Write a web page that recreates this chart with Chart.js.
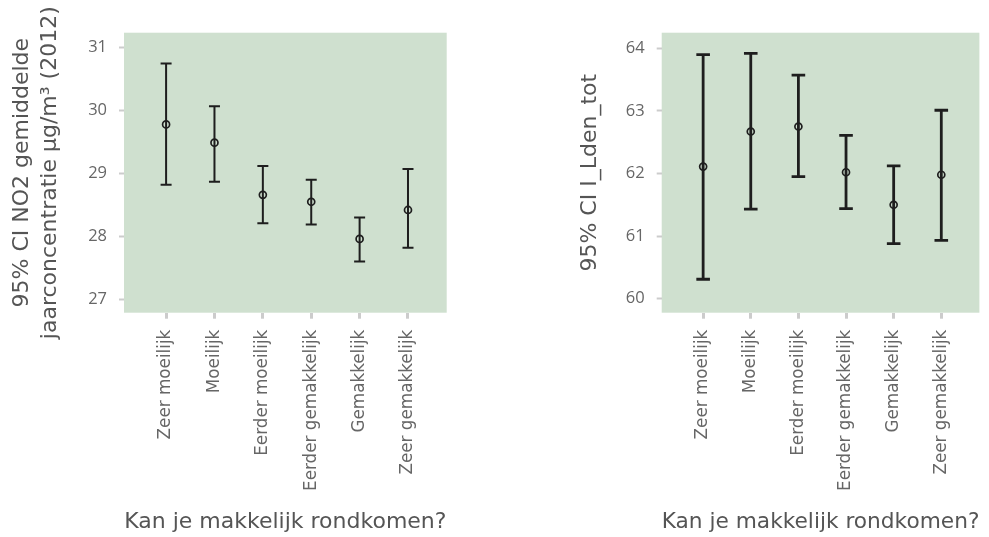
<!DOCTYPE html>
<html>
<head>
<meta charset="utf-8">
<script src="https://cdn.jsdelivr.net/npm/chart.js@4.4.1/dist/chart.umd.min.js"></script>
<style>
  html, body { margin: 0; padding: 0; background: #ffffff; }
  #wrap { position: relative; width: 989px; height: 537px; overflow: hidden; }
  canvas { position: absolute; top: 0; }
</style>
</head>
<body>
<div id="wrap">
  <canvas id="no2" width="494" height="537" style="left:0px"></canvas>
  <canvas id="lden" width="495" height="537" style="left:494px"></canvas>
</div>
<script>
// Answer categories (x axis)
const categories = ['Zeer moeilijk', 'Moeilijk', 'Eerder moeilijk', 'Eerder gemakkelijk', 'Gemakkelijk', 'Zeer gemakkelijk'];

// NO2 annual mean, 95% confidence interval
const no2Mean  = [29.78, 29.49, 28.66, 28.55, 27.96, 28.42];
const no2Lower = [28.82, 28.87, 28.21, 28.19, 27.60, 27.82];
const no2Upper = [30.75, 30.07, 29.12, 28.90, 28.30, 29.07];
const no2Ticks = [27, 28, 29, 30, 31];

// Lden total, 95% confidence interval
const ldenMean  = [62.11, 62.67, 62.75, 62.02, 61.50, 61.98];
const ldenLower = [60.31, 61.43, 61.95, 61.44, 60.88, 60.93];
const ldenUpper = [63.90, 63.92, 63.57, 62.61, 62.12, 63.01];
const ldenTicks = [60, 61, 62, 63, 64];

const xTitle = 'Kan je makkelijk rondkomen?';

const textFont = "'DejaVu Sans', sans-serif";
const numFont = "'Open Sans', sans-serif";
Chart.defaults.font.family = textFont;
Chart.defaults.devicePixelRatio = 1;

const panelFill = {
  id: 'panelFill',
  beforeDraw(chart) {
    const a = chart.chartArea, ctx = chart.ctx;
    ctx.save();
    ctx.fillStyle = '#cfe0cf';
    ctx.fillRect(a.left, a.top, a.right - a.left, a.bottom - a.top);
    ctx.restore();
  }
};

function errorChart(id, cfg) {
  const ink = '#1e1e1e';
  const whiskers = categories.map((c, i) => ({
    type: 'scatter',
    showLine: true,
    data: [{ x: i, y: cfg.lower[i] }, { x: i, y: cfg.upper[i] }],
    borderColor: ink,
    borderWidth: cfg.lw,
    pointRadius: 0,
    pointHoverRadius: 0
  }));
  const caps = {
    type: 'scatter',
    data: cfg.lower.map((v, i) => ({ x: i, y: v })).concat(cfg.upper.map((v, i) => ({ x: i, y: v }))),
    pointStyle: 'line',
    pointRadius: cfg.cap,
    pointHoverRadius: cfg.cap,
    borderColor: ink,
    borderWidth: cfg.lw
  };
  const means = {
    type: 'scatter',
    data: cfg.mean.map((v, i) => ({ x: i, y: v })),
    pointStyle: 'circle',
    pointRadius: 3.5,
    pointHoverRadius: 3.5,
    borderWidth: 1.7,
    borderColor: ink,
    backgroundColor: 'rgba(0,0,0,0)'
  };

  return new Chart(document.getElementById(id), {
    type: 'scatter',
    data: { datasets: [...whiskers, caps, means] },
    plugins: [panelFill],
    options: {
      responsive: false,
      animation: false,
      events: [],
      layout: { padding: { top: 32.7, right: cfg.padRight, bottom: 0, left: 0 } },
      plugins: { legend: { display: false }, tooltip: { enabled: false } },
      scales: {
        x: {
          type: 'linear',
          min: -0.87,
          max: 5.8,
          afterBuildTicks: s => { s.ticks = categories.map((c, i) => ({ value: i })); },
          afterFit: s => { s.height = 224.3; },
          ticks: {
            callback: v => categories[v],
            autoSkip: false,
            minRotation: 90,
            maxRotation: 90,
            padding: 11,
            color: '#666666',
            font: { size: 16.8 }
          },
          grid: { drawOnChartArea: false, drawTicks: true, tickLength: 6, tickColor: '#cccccc', tickWidth: 3 },
          border: { display: false },
          title: {
            display: true,
            text: xTitle,
            color: '#555555',
            font: { size: 22 },
            padding: { top: 0, bottom: 2 }
          }
        },
        y: {
          min: cfg.yMin,
          max: cfg.yMax,
          afterBuildTicks: s => { s.ticks = cfg.ticks.map(v => ({ value: v })); },
          afterFit: s => { s.width = cfg.axisWidth; },
          ticks: { color: '#666666', padding: 12, font: { family: numFont, size: 16.5 } },
          grid: { drawOnChartArea: false, drawTicks: true, tickLength: 5, tickColor: '#cccccc', tickWidth: 2 },
          border: { display: false },
          title: {
            display: true,
            text: cfg.yTitle,
            color: '#555555',
            font: { size: 22, lineHeight: 1.3 },
            padding: { top: cfg.titlePad, bottom: 0 }
          }
        }
      }
    }
  });
}

errorChart('no2', {
  mean: no2Mean, lower: no2Lower, upper: no2Upper, ticks: no2Ticks,
  yMin: 26.787, yMax: 31.238,
  yTitle: ['95% CI NO2 gemiddelde', 'jaarconcentratie µg/m³ (2012)'],
  axisWidth: 124, padRight: 47.3, titlePad: 7.7, lw: 2, cap: 5.5
});

errorChart('lden', {
  mean: ldenMean, lower: ldenLower, upper: ldenUpper, ticks: ldenTicks,
  yMin: 59.776, yMax: 64.249,
  yTitle: '95% CI I_Lden_tot',
  axisWidth: 167.7, padRight: 4, titlePad: 82.2, lw: 2.8, cap: 6.8
});
</script>
</body>
</html>
